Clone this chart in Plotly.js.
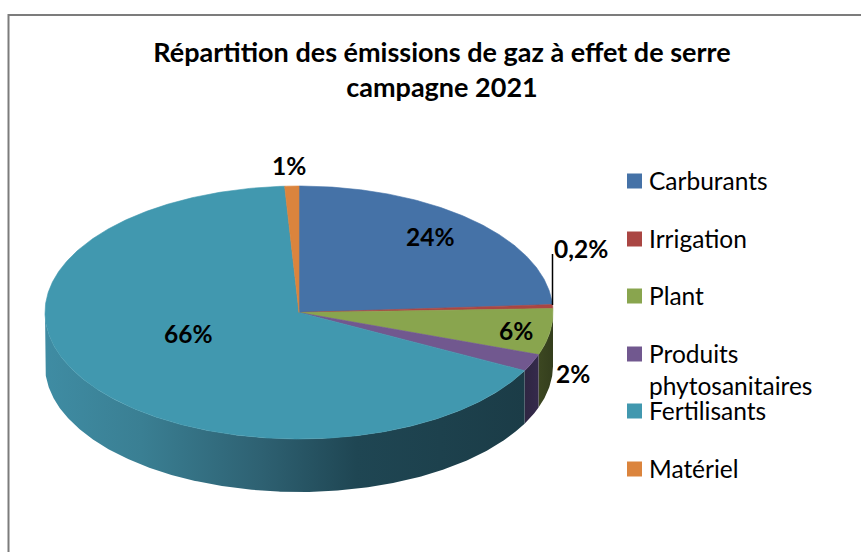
<!DOCTYPE html>
<html><head><meta charset="utf-8">
<script src="https://cdn.plot.ly/plotly-3.0.1.min.js"></script>
<style>html,body{margin:0;padding:0;background:#fff}#c{width:861px;height:552px}</style>
</head><body><div id="c"></div>
<script>
const categories = ['Carburants','Irrigation','Plant','Produits<br>phytosanitaires','Fertilisants','Matériel'];
const values = [24.0,0.5,5.9,2.2,66.5,0.9];
const valueLabels = ['24%','0,2%','6%','2%','66%','1%'];
const colors = ['#4572A7','#AA4643','#89A54E','#71588F','#4198AF','#DB843D'];
const wallStops = [
  [[0,'#2c4260'],[1,'#2c4260']],
  [[0,'#5e2826'],[1,'#5e2826']],
  [[0,'#3c4721'],[1,'#343e1d']],
  [[0,'#2f2642'],[1,'#352a4c']],
  [[0,'#3f8ca3'],[0.2,'#3a7f93'],[0.45,'#2e6172'],[0.65,'#1f4653'],[1,'#1b3c47']],
  [[0,'#8a5226'],[1,'#8a5226']]
];

const cx=299, cy=312.5, rx=254, ry=126.5, depth=53;
const px=t=>cx+rx*Math.sin(t), py=t=>cy-ry*Math.cos(t);
const total=values.reduce((a,b)=>a+b,0);
const STEP=Math.PI/360;
function arc(t1,t2,dy){
  const xs=[],ys=[],n=Math.max(2,Math.ceil(Math.abs(t2-t1)/STEP));
  for(let i=0;i<=n;i++){const t=t1+(t2-t1)*i/n;xs.push(px(t));ys.push(py(t)+dy);}
  return [xs,ys];
}
const walls=[],tops=[];
let acc=0;
categories.forEach((name,i)=>{
  const t1=acc/total*2*Math.PI; acc+=values[i]; const t2=acc/total*2*Math.PI;
  const a=Math.max(t1,Math.PI/2), b=Math.min(t2,1.5*Math.PI);
  if(b>a){
    const [x1,y1]=arc(a,b,0),[x2,y2]=arc(b,a,depth);
    walls.push({type:'scatter',mode:'lines',x:x1.concat(x2),y:y1.concat(y2),fill:'toself',
      fillgradient:{type:'horizontal',colorscale:wallStops[i]},
      line:{width:0},hoverinfo:'skip',showlegend:false});
  }
  const [x,y]=arc(t1,t2,0);
  tops.push({type:'scatter',mode:'lines',x:[cx].concat(x,[cx]),y:[cy].concat(y,[cy]),fill:'toself',
    fillcolor:colors[i],line:{width:0.6,color:colors[i]},name:name,text:valueLabels[i],hoverinfo:'name+text',showlegend:false});
});
const leader={type:'scatter',mode:'lines',x:[552.5,552.5],y:[305,254],line:{color:'#000',width:1.5},hoverinfo:'skip',showlegend:false};

const labelPos=[[430,236],[581,248],[516,330],[573,373],[188,333],[289,165]];
const anns=valueLabels.map((t,i)=>({x:labelPos[i][0],y:labelPos[i][1],xref:'x',yref:'y',text:'<b>'+t+'</b>',showarrow:false,
  xanchor:'center',yanchor:'middle',font:{family:'Lato, Carlito, sans-serif',size:24.5,color:'#000'}}));
const legendY=[181,239,296,354,411,469];
const shapes=[{type:'rect',xref:'x',yref:'y',x0:8.5,y0:15,x1:870,y1:600,line:{color:'#7c7c7c',width:2},fillcolor:'rgba(0,0,0,0)'}];
categories.forEach((name,i)=>{
  shapes.push({type:'rect',xref:'x',yref:'y',x0:627,x1:642,y0:legendY[i]-7.5,y1:legendY[i]+7.5,line:{width:0},fillcolor:colors[i]});
  anns.push({x:646.5,y:legendY[i]-17,xref:'x',yref:'y',text:name,showarrow:false,xanchor:'left',yanchor:'top',align:'left',
    font:{family:'Lato, Carlito, sans-serif',size:24.5,color:'#000'}});
});
const layout={
  width:861,height:552,margin:{l:0,r:0,t:0,b:0},paper_bgcolor:'#fff',plot_bgcolor:'#fff',showlegend:false,
  title:{text:'<b>Répartition des émissions de gaz à effet de serre<br>campagne 2021</b>',x:442/861,xanchor:'center',y:1-62/552,yanchor:'top',
    font:{family:'Lato, Carlito, sans-serif',size:27,color:'#000'}},
  xaxis:{range:[0,861],visible:false,fixedrange:true},
  yaxis:{range:[552,0],visible:false,fixedrange:true},
  shapes:shapes,annotations:anns
};
Plotly.newPlot('c',walls.concat(tops,[leader]),layout,{displayModeBar:false,staticPlot:true});
</script></body></html>
